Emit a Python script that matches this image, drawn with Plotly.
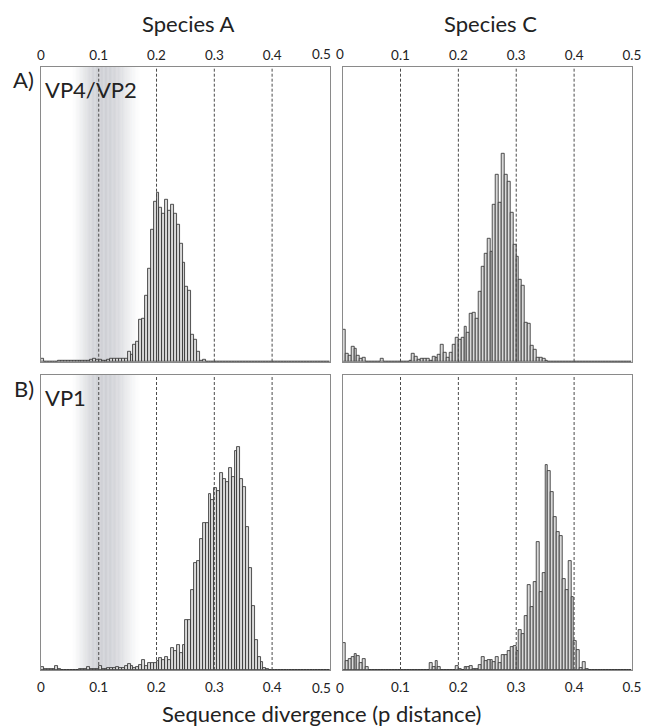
import plotly.graph_objects as go

# ---------------- data ----------------
BIN_WIDTH = 0.005
bin_starts = [round(i * BIN_WIDTH, 3) for i in range(100)]
tick_vals = [0, 0.1, 0.2, 0.3, 0.4, 0.5]
tick_text = ["0", "0.1", "0.2", "0.3", "0.4", "0.5"]
species = ["Species A", "Species C"]
row_tags = ["A)", "B)"]
regions = ["VP4/VP2", "VP1"]
axis_title = "Sequence divergence (p distance)"

speciesA_vp4vp2 = [
    3, 0, 0, 0, 0, 0.5, 0.8, 0.8, 0.8, 0.8,
    0.8, 0.8, 0.8, 0.8, 0.8, 1, 1.5, 2, 3, 2,
    2, 1.5, 1.5, 2, 3, 3, 3, 3, 3, 3,
    10, 7, 17, 20, 42, 43, 66, 93, 132, 160,
    169, 154, 148, 162, 151, 157, 148, 137, 118, 99,
    75, 71, 27, 22, 10, 1, 2, 0, 0, 0,
    0, 0, 0, 0, 0, 0, 0, 0, 0, 0,
    0, 0, 0, 0, 0, 0, 0, 0, 0, 0,
    0, 0, 0, 0, 0, 0, 0, 0, 0, 0,
    0, 0, 0, 0, 0, 0, 0, 0, 0, 0,
]
speciesC_vp4vp2 = [
    32.5, 8, 6, 15, 13.5, 6, 3.5, 4.5, 0, 0,
    0, 0, 0, 3, 0, 0, 0, 0, 0, 0,
    0, 0, 0.5, 1.5, 8, 5, 2, 3.5, 3, 3,
    1.5, 5, 4, 7, 17.5, 9.5, 4, 9, 17, 24,
    22.5, 24, 35, 29.5, 48.5, 49, 43.5, 70, 95.5, 108,
    123.5, 110.5, 157, 187.5, 159, 208, 187.5, 180, 149, 117.5,
    105, 82.5, 76.5, 39, 38, 16, 12, 4, 4, 3,
    1, 0, 0, 0, 0, 0, 0, 0, 0, 0,
    0, 0, 0, 0, 0, 0, 0, 0, 0, 0,
    0, 0, 0, 0, 0, 0, 0, 0, 0, 0,
]
speciesA_vp1 = [
    3, 1.5, 1, 1, 1.5, 4, 1, 0.5, 0.5, 0.5,
    0.5, 0.5, 0.5, 1, 1, 1.5, 3, 1.5, 1, 1,
    4, 1.5, 1.5, 2, 2.5, 2, 3, 2.5, 2, 4,
    6, 4.3, 2, 2.7, 5, 10, 3.7, 6.7, 7, 6.7,
    9, 12, 10, 13, 10, 22, 19.3, 25, 17, 25,
    50.3, 50, 80, 106.7, 108.7, 131, 147, 147, 176.3, 170,
    182.3, 179.3, 197, 191, 188.3, 202, 192.7, 219.3, 223.3, 191,
    183, 143.3, 101.7, 64, 30, 13.3, 7.7, 1.7, 0.7, 0,
    0, 0, 0, 0, 0, 0, 0, 0, 0, 0,
    0, 0, 0, 0, 0, 0, 0, 0, 0, 0,
]
speciesC_vp1 = [
    26.7, 9.3, 10.7, 12.7, 16, 14, 7.3, 11, 2.7, 0.3,
    0.3, 0.3, 0.3, 0.3, 0.3, 0.3, 0.3, 0.3, 0.3, 0.3,
    0, 0, 0, 0, 0, 0, 0, 0, 0, 0,
    6.7, 2.7, 8.7, 3.3, 0, 0, 0, 0, 0, 4,
    0.7, 0, 3.3, 3.3, 4, 1.3, 0.7, 5.5, 13, 9,
    9.7, 9.7, 8, 12.7, 7, 14.7, 14.7, 19.3, 22.7, 24,
    19.3, 39.7, 36.3, 54, 84.7, 63, 87.7, 128, 78, 97.3,
    205, 199, 178, 152.7, 137.7, 134, 91.3, 80, 109, 73,
    29, 20, 2, 8.3, 1, 0.3, 0, 0, 0, 0,
    0, 0, 0, 0, 0, 0, 0, 0, 0, 0,
]
for arr in (speciesA_vp4vp2, speciesC_vp4vp2, speciesA_vp1, speciesC_vp1):
    assert len(arr) == len(bin_starts)

panels = [
    (speciesA_vp4vp2, 0, 0),
    (speciesC_vp4vp2, 0, 1),
    (speciesA_vp1, 1, 0),
    (speciesC_vp1, 1, 1),
]

# ---------------- layout geometry (pixels) ----------------
W, H = 654, 728
col_px = [(37.7, 332.5), (345.5, 640.7)]
row_px = [(66.7, 361.7), (375.0, 670.0)]
tick_label_y = [54, 688]
Y_MAX = 295

FONT = "Lato, 'Open Sans', sans-serif"
TXT = "#222222"
BOX = "#8a8a8a"
TICK_SIZE = 13.5

fig = go.Figure()
layout = dict(
    width=W, height=H,
    margin=dict(l=0, r=0, t=0, b=0),
    paper_bgcolor="white", plot_bgcolor="white",
    showlegend=False, bargap=0,
    font=dict(family=FONT, color=TXT),
)
shapes = []
annotations = []

centers = [s + BIN_WIDTH / 2 for s in bin_starts]

for k, (vals, r, c) in enumerate(panels):
    idx = "" if k == 0 else str(k + 1)
    xa, ya = "x" + idx, "y" + idx
    fig.add_trace(go.Bar(
        x=centers, y=vals, width=BIN_WIDTH,
        xaxis=xa, yaxis=ya,
        marker=dict(color="#d9d9d9", line=dict(color="#2b2b2b", width=0.8)),
        hoverinfo="skip",
    ))
    x0, x1 = col_px[c]
    y0, y1 = row_px[r]
    # the label at the gap between the two columns is placed separately
    # (nudged like in the original so "0.5" and "0" do not touch)
    if c == 0:
        tv, tt = tick_vals[:-1], tick_text[:-1]
        gap_val, gap_txt, gap_shift = tick_vals[-1], tick_text[-1], -8.5
    else:
        tv, tt = tick_vals[1:], tick_text[1:]
        gap_val, gap_txt, gap_shift = tick_vals[0], tick_text[0], -2.5
    layout["xaxis" + idx] = dict(
        domain=[x0 / W, x1 / W], anchor=ya, range=[0, 0.5],
        tickvals=tv, ticktext=tt, ticks="",
        side="top" if r == 0 else "bottom",
        showgrid=False, zeroline=False,
        showline=True, mirror=True, linecolor=BOX, linewidth=1,
        tickfont=dict(size=TICK_SIZE, color=TXT, family=FONT),
        ticklabelstandoff=0 if r == 0 else 5,
    )
    layout["yaxis" + idx] = dict(
        domain=[1 - y1 / H, 1 - y0 / H], anchor=xa, range=[0, Y_MAX],
        showticklabels=False, ticks="", showgrid=False, zeroline=False,
        showline=True, mirror=True, linecolor=BOX, linewidth=1,
    )
    annotations.append(dict(
        text=gap_txt, xref=xa, yref="paper", x=gap_val, xshift=gap_shift,
        y=1 - tick_label_y[r] / H, xanchor="center", yanchor="middle",
        showarrow=False, borderpad=0,
        font=dict(size=TICK_SIZE, color=TXT, family=FONT),
    ))

    # grey gradient band around 0.1 (Species A panels)
    if c == 0:
        n = 60
        lo, hi = 0.045, 0.18
        step = (hi - lo) / n
        for j in range(n):
            xm = lo + (j + 0.5) * step
            if xm < 0.1:
                t = (xm - 0.05) / 0.05
            elif xm < 0.115:
                t = 1.0
            else:
                t = 1 - (xm - 0.115) / 0.06
            t = max(0.0, min(1.0, t))
            t = t * t * (3 - 2 * t)
            if t <= 0:
                continue
            shapes.append(dict(
                type="rect", xref=xa, yref=ya + " domain",
                x0=lo + j * step, x1=lo + (j + 1) * step + step * 0.05,
                y0=0, y1=1, fillcolor="rgb(196,198,204)", opacity=0.8 * t,
                line=dict(width=0), layer="below",
            ))
    # dashed reference lines at inner ticks
    for v in tick_vals[1:-1]:
        shapes.append(dict(
            type="line", xref=xa, yref=ya + " domain",
            x0=v, x1=v, y0=0, y1=1,
            line=dict(color="#4a4a4a", width=1, dash="3px,2px"), layer="above",
        ))

    if r == 0:
        annotations.append(dict(
            text=species[c], xref="paper", yref="paper",
            x=(x0 + x1) / 2 / W + 3 / W, y=1 - 24 / H, xanchor="center", yanchor="middle",
            showarrow=False, font=dict(size=22, color=TXT, family=FONT),
        ))
    if c == 0:
        annotations.append(dict(
            text=row_tags[r], xref="paper", yref="paper",
            x=20 / W, y=1 - (y0 + 13) / H, xanchor="center", yanchor="middle",
            showarrow=False, font=dict(size=22, color=TXT, family=FONT),
        ))
        annotations.append(dict(
            text=regions[r], xref=xa + " domain", yref=ya + " domain",
            x=0.008, y=1 - 22.3 / Y_MAX, xanchor="left", yanchor="middle",
            showarrow=False, font=dict(size=22, color=TXT, family=FONT),
        ))

annotations.append(dict(
    text=axis_title, xref="paper", yref="paper",
    x=324 / W, y=1 - 713 / H, xanchor="center", yanchor="middle",
    showarrow=False, font=dict(size=22, color=TXT, family=FONT),
))

layout["shapes"] = shapes
layout["annotations"] = annotations
fig.update_layout(**layout)
fig.write_html("out.html")
